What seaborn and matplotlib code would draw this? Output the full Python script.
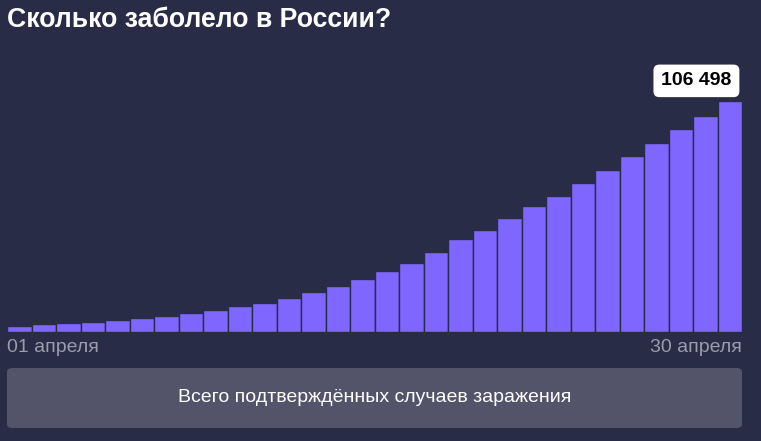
import matplotlib
matplotlib.use("Agg")
import matplotlib.pyplot as plt
import seaborn as sns
import pandas as pd
from matplotlib.patches import FancyBboxPatch

days = [f"{d:02d} апреля" for d in range(1, 31)]
cases = [2777, 3548, 4149, 4731, 5389, 6343, 7497, 8672, 10131, 11917,
         13584, 15770, 18328, 21102, 24490, 27938, 32008, 36793, 42853, 47121,
         52763, 57999, 62773, 68622, 74588, 80949, 87147, 93558, 99399, 106498]
title = "Сколько заболело в России?"
button_label = "Всего подтверждённых случаев заражения"

BG = "#292c46"
BAR = "#7f66ff"
BTN = "#535469"
GREY = "#9a9bab"

sns.set_theme(style="white")
plt.rcParams['font.family'] = ['Liberation Sans', 'DejaVu Sans']

W, H = 761, 441
fig = plt.figure(figsize=(W / 100, H / 100), dpi=100, facecolor=BG)
ax = fig.add_axes([7 / W, 1 - 332 / H, (742 - 7) / W, (332 - 60) / H])
ax.set_facecolor(BG)

df = pd.DataFrame({"day": days, "cases": cases})
sns.barplot(data=df, x="day", y="cases", color=BAR, saturation=1, width=1,
            edgecolor=BG, linewidth=1, ax=ax)

ax.set_xlim(-0.5, len(days) - 0.5)
ax.set_ylim(0, max(cases) * 272 / 231)
for s in ax.spines.values():
    s.set_visible(False)
ax.set_xticks([]); ax.set_yticks([])
ax.set_xlabel(""); ax.set_ylabel("")

last = len(cases) - 1
ax.annotate(f"{cases[-1]:,}".replace(",", " "), xy=(last, cases[-1]),
            xytext=(-24, 14.5), textcoords="offset points", ha="center", va="center",
            fontsize=14, fontweight="bold", color="black",
            bbox=dict(boxstyle="round,pad=0.4,rounding_size=0.3", fc="white", ec="none"))

fig.text(7 / W, 1 - 20 / H, title, fontsize=19.2, fontweight="bold", color="white",
         ha="left", va="center")
fig.text(7 / W, 1 - 348 / H, days[0], fontsize=14, color=GREY, ha="left", va="center")
fig.text(742 / W, 1 - 348 / H, days[-1], fontsize=14, color=GREY, ha="right", va="center")

btn = FancyBboxPatch((7 / W, 1 - 428 / H), (742 - 7) / W, 60 / H,
                     boxstyle="round,pad=0,rounding_size=0.008",
                     transform=fig.transFigure, fc=BTN, ec="none")
fig.patches.append(btn)
fig.text((7 + 742) / 2 / W, 1 - 398 / H, button_label, fontsize=14, color="white",
         ha="center", va="center")

fig.savefig("out.png", dpi=100, facecolor=BG)
